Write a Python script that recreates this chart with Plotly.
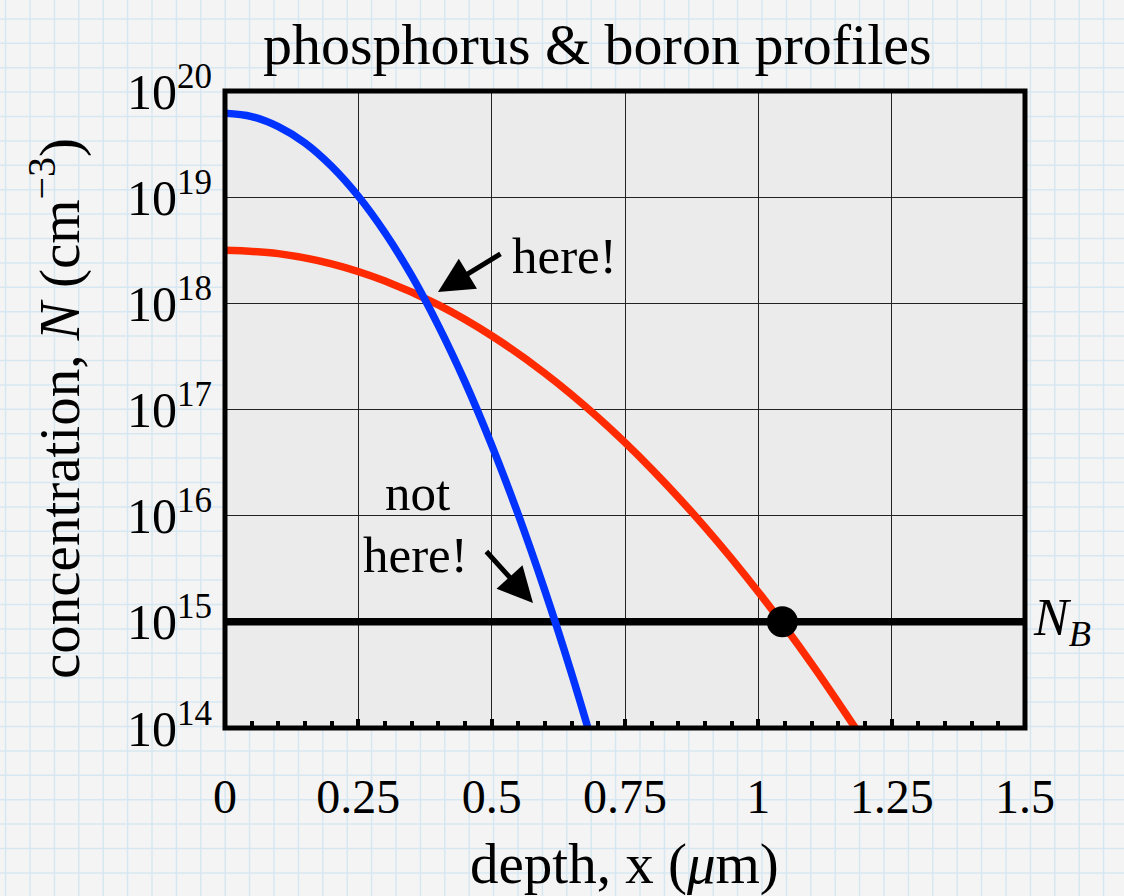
import plotly.graph_objects as go

# ---------------- data ----------------
depth_P = [0.00, 0.05, 0.10, 0.15, 0.20, 0.25, 0.30, 0.35, 0.40, 0.45,
           0.50, 0.55, 0.60, 0.65, 0.69]
conc_P = [6.17e19, 5.75e19, 4.62e19, 3.24e19, 1.95e19, 1.02e19, 4.62e18,
          1.82e18, 6.17e17, 1.82e17, 4.62e16, 1.02e16, 1.95e15, 3.24e14, 6.9e13]

depth_B = [0.0, 0.1, 0.2, 0.3, 0.4, 0.5, 0.6, 0.7, 0.8, 0.9, 1.0, 1.1, 1.2]
conc_B = [3.16e18, 2.94e18, 2.35e18, 1.62e18, 9.66e17, 4.95e17, 2.19e17,
          8.36e16, 2.75e16, 7.8e15, 1.91e15, 4.02e14, 7.3e13]

NB_depth = [0.0, 1.5]
NB_conc = [1e15, 1e15]

junction_depth = [1.045]
junction_conc = [1e15]

x_ticks = [0, 0.25, 0.5, 0.75, 1.0, 1.25, 1.5]
x_ticklabels = ["0", "0.25", "0.5", "0.75", "1", "1.25", "1.5"]
y_ticks = [1e14, 1e15, 1e16, 1e17, 1e18, 1e19, 1e20]
y_ticklabels = ["10<sup>14</sup>", "10<sup>15</sup>", "10<sup>16</sup>",
                "10<sup>17</sup>", "10<sup>18</sup>", "10<sup>19</sup>",
                "10<sup>20</sup>"]

# ---------------- layout geometry ----------------
W, H = 1124, 896
L, R, T, B = 225, 99, 91, 168
PW, PH = W - L - R, H - T - B
FONT = "Liberation Serif, Times New Roman, serif"


def px_x(px):
    return (px - L) / PW


def px_y(py):
    return (H - B - py) / PH


# graph-paper background (decoration)
step = 24.4
path = []
v = 5.6
while v < W:
    path.append(f"M{px_x(v):.5f},{px_y(0):.5f}L{px_x(v):.5f},{px_y(H):.5f}")
    v += step
h = 18.9
while h < H:
    path.append(f"M{px_x(0):.5f},{px_y(h):.5f}L{px_x(W):.5f},{px_y(h):.5f}")
    h += step

shapes = [
    dict(type="path", xref="paper", yref="paper", path="".join(path),
         line=dict(color="#d6e7f1", width=1.5), layer="below"),
    dict(type="rect", xref="paper", yref="paper", x0=0, x1=1, y0=0, y1=1,
         fillcolor="#ebebeb", line=dict(width=0), layer="below"),
    dict(type="rect", xref="paper", yref="paper", x0=0, x1=1, y0=0, y1=1,
         line=dict(color="black", width=5), layer="above"),
]

fig = go.Figure()

fig.add_trace(go.Scatter(x=NB_depth, y=NB_conc, mode="lines",
                         line=dict(color="black", width=7.5), hoverinfo="skip"))
fig.add_trace(go.Scatter(x=depth_B, y=conc_B, mode="lines",
                         line=dict(color="#ff2a00", width=7.5, shape="spline"),
                         name="boron"))
fig.add_trace(go.Scatter(x=depth_P, y=conc_P, mode="lines",
                         line=dict(color="#0033ff", width=7.5, shape="spline"),
                         name="phosphorus"))
fig.add_trace(go.Scatter(x=junction_depth, y=junction_conc, mode="markers",
                         marker=dict(color="black", size=31), name="junction"))

annotations = [
    dict(text="phosphorus &amp; boron profiles", xref="paper", yref="paper",
         x=px_x(597), y=px_y(44), xanchor="center", yanchor="middle",
         showarrow=False, font=dict(family=FONT, size=58, color="black")),
    dict(text="depth, x (<i>μ</i>m)", xref="paper", yref="paper",
         x=px_x(624), y=px_y(864), xanchor="center", yanchor="middle",
         showarrow=False, font=dict(family=FONT, size=57, color="black")),
    dict(text="concentration, <i>N</i> (cm<sup>−3</sup>)", xref="paper",
         yref="paper", x=px_x(55), y=px_y(409), xanchor="center",
         yanchor="middle", textangle=-90, showarrow=False,
         font=dict(family=FONT, size=57, color="black")),
    dict(text="<i>N<sub>B</sub></i>", xref="paper", yref="y", x=1.0,
         y=15, xanchor="left", yanchor="middle", xshift=6, showarrow=False,
         font=dict(family=FONT, size=52, color="black")),
    dict(text="here!", xref="paper", yref="paper", x=px_x(564), y=px_y(256),
         xanchor="center", yanchor="middle", showarrow=False,
         font=dict(family=FONT, size=51, color="black")),
    dict(text="not", xref="paper", yref="paper", x=px_x(417), y=px_y(493),
         xanchor="center", yanchor="middle", showarrow=False,
         font=dict(family=FONT, size=51, color="black")),
    dict(text="here!", xref="paper", yref="paper", x=px_x(415), y=px_y(555),
         xanchor="center", yanchor="middle", showarrow=False,
         font=dict(family=FONT, size=51, color="black")),
    # arrows
    dict(text="", x=px_x(438), y=px_y(292), xref="paper", yref="paper",
         ax=64, ay=-39, showarrow=True, arrowhead=2, arrowsize=1.4,
         arrowwidth=5, arrowcolor="black"),
    dict(text="", x=px_x(533), y=px_y(603), xref="paper", yref="paper",
         ax=-48, ay=-53, showarrow=True, arrowhead=2, arrowsize=1.4,
         arrowwidth=5, arrowcolor="black"),
]

fig.update_layout(
    width=W, height=H,
    margin=dict(l=L, r=R, t=T, b=B, pad=0),
    paper_bgcolor="#f4f4f4",
    plot_bgcolor="rgba(0,0,0,0)",
    showlegend=False,
    shapes=shapes,
    annotations=annotations,
    font=dict(family=FONT, color="black"),
)

fig.update_xaxes(
    range=[0, 1.5], tickvals=x_ticks, ticktext=x_ticklabels,
    showgrid=True, gridcolor="#222222", gridwidth=1.2,
    zeroline=False, showline=False,
    ticks="inside", ticklen=9, tickwidth=4, tickcolor="black",
    ticklabelstandoff=36,
    tickfont=dict(family=FONT, size=48, color="black"),
    minor=dict(dtick=0.05, ticks="inside", ticklen=7, tickwidth=4,
               tickcolor="black", showgrid=False),
)
fig.update_yaxes(
    type="log", range=[14, 20], tickvals=y_ticks, ticktext=y_ticklabels,
    showgrid=True, gridcolor="#222222", gridwidth=1.2,
    zeroline=False, showline=False, ticks="",
    ticklabelstandoff=12,
    tickfont=dict(family=FONT, size=50, color="black"),
)

fig.write_html("out.html")
